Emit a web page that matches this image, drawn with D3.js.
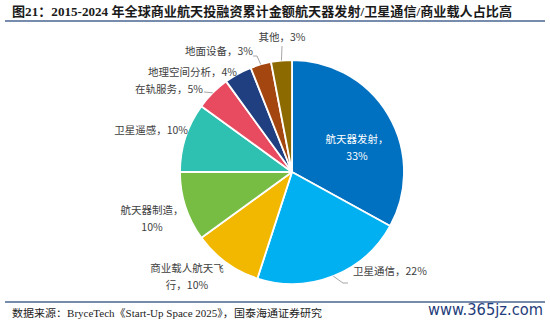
<!DOCTYPE html>
<html>
<head>
<meta charset="utf-8">
<script src="https://cdn.jsdelivr.net/npm/d3@7/dist/d3.min.js"></script>
<style>
  html, body { margin: 0; padding: 0; background: #fff; }
  svg { display: block; }
</style>
</head>
<body>
<svg id="chart" width="550" height="324"></svg>
<script>
// Shares of cumulative commercial space investment, 2015-2024 (%)
const categories = ["航天器发射", "卫星通信", "商业载人航天飞行", "航天器制造", "卫星遥感", "在轨服务", "地理空间分析", "地面设备", "其他"];
const shares = [33, 22, 10, 10, 10, 5, 4, 3, 3];
const sliceColors = ["#0070C0", "#00B0F0", "#F2B800", "#77BC43", "#2EC0B1", "#E84A60", "#203F80", "#A3460F", "#8C6A00"];

const titleText = "图21：2015-2024 年全球商业航天投融资累计金额航天器发射/卫星通信/商业载人占比高";
const sourceText = "数据来源：BryceTech《Start-Up Space 2025》，国泰海通证券研究";
const siteText = "www.365jz.com";

// Label placement: lines of text, anchor point relative to the pie centre,
// text anchor, and an optional elbow for the leader line.
const labelLayout = [
  { lines: ["航天器发射，", "33%"], x: 65, y: -29, anchor: "middle", fill: "#fff" },
  { lines: ["卫星通信，22%"], x: 61, y: 103, anchor: "start", leader: [[51, 111], [56, 111]] },
  { lines: ["商业载人航天飞", "行，10%"], x: -105, y: 100, anchor: "middle" },
  { lines: ["航天器制造，", "10%"], x: -140, y: 42, anchor: "middle" },
  { lines: ["卫星遥感，10%"], x: -104, y: -38, anchor: "end" },
  { lines: ["在轨服务，5%"], x: -89, y: -79, anchor: "end", leader: [[-88, -80]] },
  { lines: ["地理空间分析，4%"], x: -55, y: -96, anchor: "end", leader: [[-54, -98]] },
  { lines: ["地面设备，3%"], x: -39, y: -117, anchor: "end", leader: [[-35, -116], [-39, -116]] },
  { lines: ["其他，3%"], x: -10, y: -131, anchor: "middle", leader: [[-10, -126]] }
];

const svg = d3.select("#chart");
const cx = 292, cy = 172, R = 112;

const cjk = "'Noto Sans CJK SC', 'Noto Sans', sans-serif";
const mixed = "'Liberation Serif', 'Noto Sans CJK SC', serif";

// Title and rules
svg.append("text")
  .attr("x", 12).attr("y", 16)
  .attr("font-family", mixed)
  .attr("font-weight", "bold")
  .attr("font-size", 13)
  .attr("fill", "#1a1a1a")
  .attr("textLength", 500)
  .attr("lengthAdjust", "spacingAndGlyphs")
  .text(titleText);

svg.append("line")
  .attr("x1", 5).attr("x2", 545).attr("y1", 21).attr("y2", 21)
  .attr("stroke", "#4A6590").attr("stroke-width", 1.5);

svg.append("line")
  .attr("x1", 5).attr("x2", 545).attr("y1", 302).attr("y2", 302)
  .attr("stroke", "#4A6590").attr("stroke-width", 1.5);

svg.append("text")
  .attr("x", 12).attr("y", 317)
  .attr("font-family", mixed)
  .attr("font-size", 10.5)
  .attr("fill", "#222")
  .attr("textLength", 310)
  .attr("lengthAdjust", "spacingAndGlyphs")
  .text(sourceText);

svg.append("text")
  .attr("x", 428).attr("y", 315)
  .attr("font-family", "'DejaVu Sans', sans-serif")
  .attr("font-size", 15.5)
  .attr("fill", "#1F3D7A")
  .attr("textLength", 115)
  .attr("lengthAdjust", "spacingAndGlyphs")
  .text(siteText);

// Pie
const pie = d3.pie().sort(null).value(d => d.v).startAngle(0).endAngle(2 * Math.PI);
const data = categories.map((c, i) => ({ c, v: shares[i], i }));
const arcs = pie(data);
const arc = d3.arc().innerRadius(0).outerRadius(R);

const g = svg.append("g").attr("transform", `translate(${cx},${cy})`);

g.selectAll("path.slice")
  .data(arcs)
  .join("path")
  .attr("class", "slice")
  .attr("d", arc)
  .attr("fill", d => sliceColors[d.data.i])
  .attr("stroke", "#fff")
  .attr("stroke-width", 1.8)
  .attr("stroke-linejoin", "round");

// Leader lines start on the rim at each slice's mid angle
arcs.forEach((a, i) => {
  const L = labelLayout[i];
  if (!L.leader) return;
  const mid = (a.startAngle + a.endAngle) / 2;
  const pts = [[R * Math.sin(mid), -R * Math.cos(mid)], ...L.leader];
  g.append("path")
    .attr("d", d3.line()(pts))
    .attr("fill", "none")
    .attr("stroke", "#A6A6A6")
    .attr("stroke-width", 1);
});

// Labels
labelLayout.forEach((L, i) => {
  const t = g.append("text")
    .attr("font-family", cjk)
    .attr("font-size", 10.5)
    .attr("fill", L.fill || "#404040")
    .attr("text-anchor", L.anchor);
  L.lines.forEach((s, k) => {
    t.append("tspan")
      .attr("x", L.x)
      .attr("y", L.y + k * 17)
      .text(s);
  });
});
</script>
</body>
</html>
